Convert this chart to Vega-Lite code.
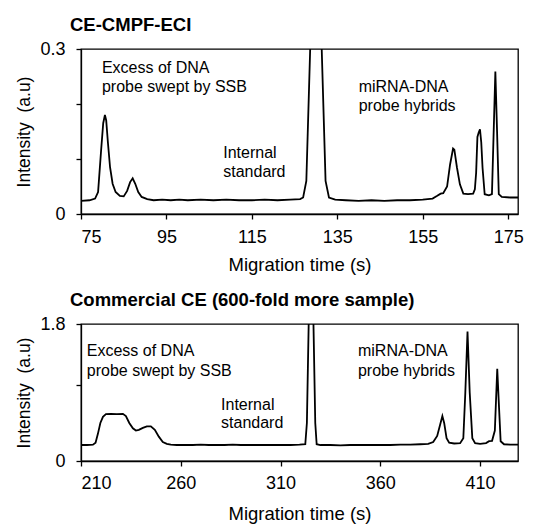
{
  "$schema": "https://vega.github.io/schema/vega-lite/v6.json",
  "background": "white",
  "padding": {"left": 15, "top": 14, "right": 4, "bottom": 2},
  "spacing": 14,
  "config": {
    "font": "Liberation Sans",
    "view": {"stroke": "black", "strokeWidth": 1.3},
    "axis": {
      "grid": false, "domainColor": "black", "domainWidth": 1.3, "tickColor": "black", "tickWidth": 1.3,
      "labelColor": "black", "titleColor": "black", "labelFontSize": 18, "titleFontSize": 18.5,
      "titleFontWeight": "normal", "tickSize": 5, "labelFont": "Liberation Sans", "titleFont": "Liberation Sans"
    },
    "axisY": {"titleFontSize": 17.5},
    "title": {"color": "black", "font": "Liberation Sans", "fontSize": 18.5, "fontWeight": "bold", "anchor": "start", "frame": "group"}
  },
  "vconcat": [
    {
      "width": 437, "height": 165,
      "title": {"text": "CE-CMPF-ECI", "dx": -11, "offset": 6},
      "layer": [
        {
          "data": {"values": [
            {"t":75,"v":0.024},{"t":77,"v":0.025},{"t":78.3,"v":0.028},{"t":79.0,"v":0.040},{"t":79.7,"v":0.115},{"t":80.2,"v":0.165},{"t":80.6,"v":0.180},{"t":80.9,"v":0.170},{"t":81.3,"v":0.130},{"t":81.8,"v":0.085},{"t":82.4,"v":0.055},{"t":83.1,"v":0.040},{"t":84.1,"v":0.033},{"t":85.0,"v":0.032},{"t":85.8,"v":0.042},{"t":86.5,"v":0.058},{"t":87.1,"v":0.065},{"t":87.7,"v":0.055},{"t":88.4,"v":0.040},{"t":89.2,"v":0.031},{"t":90.5,"v":0.027},{"t":92,"v":0.025},{"t":94,"v":0.026},{"t":96,"v":0.025},{"t":98,"v":0.026},{"t":100,"v":0.025},{"t":103,"v":0.026},{"t":106,"v":0.025},{"t":109,"v":0.026},{"t":112,"v":0.025},{"t":115,"v":0.025},{"t":118,"v":0.026},{"t":121,"v":0.025},{"t":124,"v":0.026},{"t":126.3,"v":0.027},{"t":127.0,"v":0.030},{"t":127.75,"v":0.060},{"t":128.65,"v":0.300},{"t":130.0,"v":0.9},{"t":131.35,"v":0.300},{"t":132.25,"v":0.060},{"t":133.05,"v":0.030},{"t":134.5,"v":0.026},{"t":137,"v":0.025},{"t":140,"v":0.024},{"t":143,"v":0.025},{"t":146,"v":0.024},{"t":149,"v":0.025},{"t":152,"v":0.025},{"t":155,"v":0.026},{"t":157.3,"v":0.028},{"t":158.4,"v":0.033},{"t":159.2,"v":0.037},{"t":159.8,"v":0.038},{"t":160.7,"v":0.050},{"t":161.4,"v":0.090},{"t":162.1,"v":0.119},{"t":162.4,"v":0.117},{"t":163.0,"v":0.085},{"t":163.7,"v":0.054},{"t":164.5,"v":0.037},{"t":165.6,"v":0.036},{"t":166.8,"v":0.037},{"t":167.2,"v":0.045},{"t":167.5,"v":0.075},{"t":167.8,"v":0.140},{"t":168.1,"v":0.148},{"t":168.4,"v":0.154},{"t":168.7,"v":0.130},{"t":169.0,"v":0.084},{"t":169.5,"v":0.036},{"t":170.5,"v":0.034},{"t":171.2,"v":0.036},{"t":171.5,"v":0.120},{"t":172.0,"v":0.259},{"t":172.4,"v":0.150},{"t":172.8,"v":0.036},{"t":173.5,"v":0.031},{"t":175.5,"v":0.030},{"t":177.3,"v":0.030}
          ]},
          "mark": {"type": "line", "color": "black", "strokeWidth": 1.8, "clip": true},
          "encoding": {
            "x": {"field": "t", "type": "quantitative", "scale": {"domain": [75, 177.3], "nice": false, "zero": false},
                  "axis": {"values": [75, 95, 115, 135, 155, 175], "title": "Migration time (s)", "labelPadding": 9, "titlePadding": 9}},
            "y": {"field": "v", "type": "quantitative", "scale": {"domain": [0, 0.3], "nice": false},
                  "axis": {"values": [0, 0.1, 0.2, 0.3], "labelExpr": "datum.value == 0 ? '0' : (datum.value == 0.3 ? '0.3' : '')", "title": "Intensity\u00a0 (a.u)", "labelPadding": 11, "titlePadding": 6}}
          }
        },
        {
          "data": {"values": [
            {"t":79.9,"v":0.257,"label":"Excess of DNA"},{"t":79.9,"v":0.222,"label":"probe swept by SSB"},
            {"t":108.3,"v":0.102,"label":"Internal"},{"t":108.3,"v":0.067,"label":"standard"},
            {"t":140.0,"v":0.222,"label":"miRNA-DNA"},{"t":140.0,"v":0.187,"label":"probe hybrids"}
          ]},
          "mark": {"type": "text", "align": "left", "baseline": "alphabetic", "fontSize": 16, "color": "black"},
          "encoding": {
            "x": {"field": "t", "type": "quantitative"},
            "y": {"field": "v", "type": "quantitative"},
            "text": {"field": "label"}
          }
        }
      ]
    },
    {
      "width": 437, "height": 137,
      "title": {"text": "Commercial CE (600-fold more sample)", "dx": -11, "offset": 6},
      "layer": [
        {
          "data": {"values": [
            {"t":210,"v":0.21},{"t":213,"v":0.21},{"t":216,"v":0.215},{"t":217.3,"v":0.24},{"t":218.5,"v":0.36},{"t":219.7,"v":0.50},{"t":221,"v":0.58},{"t":222.5,"v":0.615},{"t":225,"v":0.62},{"t":228,"v":0.615},{"t":231,"v":0.62},{"t":232.5,"v":0.59},{"t":234.2,"v":0.50},{"t":236,"v":0.43},{"t":237.5,"v":0.40},{"t":239,"v":0.41},{"t":241,"v":0.435},{"t":243,"v":0.455},{"t":245,"v":0.455},{"t":247,"v":0.41},{"t":249,"v":0.32},{"t":251,"v":0.25},{"t":253,"v":0.225},{"t":255,"v":0.215},{"t":258,"v":0.21},{"t":262,"v":0.21},{"t":266,"v":0.21},{"t":270,"v":0.215},{"t":274,"v":0.21},{"t":278,"v":0.21},{"t":282,"v":0.21},{"t":286,"v":0.215},{"t":290,"v":0.21},{"t":295,"v":0.21},{"t":300,"v":0.21},{"t":305,"v":0.21},{"t":310,"v":0.21},{"t":315,"v":0.21},{"t":319.5,"v":0.215},{"t":322.4,"v":0.22},{"t":323.2,"v":0.5},{"t":324.1,"v":1.8},{"t":325.3,"v":3.5},{"t":326.5,"v":1.8},{"t":327.4,"v":0.5},{"t":328.1,"v":0.22},{"t":330,"v":0.21},{"t":335,"v":0.21},{"t":340,"v":0.205},{"t":345,"v":0.21},{"t":350,"v":0.21},{"t":355,"v":0.21},{"t":360,"v":0.21},{"t":365,"v":0.21},{"t":370,"v":0.215},{"t":375,"v":0.215},{"t":380,"v":0.22},{"t":384,"v":0.225},{"t":386.5,"v":0.25},{"t":388.5,"v":0.33},{"t":390,"v":0.48},{"t":391.1,"v":0.59},{"t":392,"v":0.50},{"t":393.2,"v":0.30},{"t":394.5,"v":0.24},{"t":397,"v":0.23},{"t":400,"v":0.235},{"t":401.6,"v":0.30},{"t":402.6,"v":0.9},{"t":403.7,"v":1.70},{"t":404.8,"v":0.9},{"t":406.1,"v":0.30},{"t":407.5,"v":0.235},{"t":410,"v":0.225},{"t":413,"v":0.235},{"t":414.5,"v":0.26},{"t":416,"v":0.265},{"t":417.4,"v":0.40},{"t":418.6,"v":1.21},{"t":419.5,"v":0.7},{"t":420.3,"v":0.26},{"t":422,"v":0.22},{"t":425,"v":0.215},{"t":429,"v":0.215}
          ]},
          "mark": {"type": "line", "color": "black", "strokeWidth": 1.8, "clip": true},
          "encoding": {
            "x": {"field": "t", "type": "quantitative", "scale": {"domain": [210, 429], "nice": false, "zero": false},
                  "axis": {"values": [210, 260, 310, 360, 410], "title": "Migration time (s)", "labelPadding": 8, "titlePadding": 12}},
            "y": {"field": "v", "type": "quantitative", "scale": {"domain": [0, 1.8], "nice": false},
                  "axis": {"values": [0, 0.5, 1, 1.5, 1.8], "labelExpr": "datum.value == 0 ? '0' : (datum.value == 1.8 ? '1.8' : '')", "title": "Intensity\u00a0 (a.u)", "labelPadding": 11, "titlePadding": 6}}
          }
        },
        {
          "data": {"values": [
            {"t":212.9,"v":1.38,"label":"Excess of DNA"},{"t":212.9,"v":1.113,"label":"probe swept by SSB"},
            {"t":280.2,"v":0.674,"label":"Internal"},{"t":280.2,"v":0.434,"label":"standard"},
            {"t":348.8,"v":1.38,"label":"miRNA-DNA"},{"t":348.8,"v":1.113,"label":"probe hybrids"}
          ]},
          "mark": {"type": "text", "align": "left", "baseline": "alphabetic", "fontSize": 16, "color": "black"},
          "encoding": {
            "x": {"field": "t", "type": "quantitative"},
            "y": {"field": "v", "type": "quantitative"},
            "text": {"field": "label"}
          }
        }
      ]
    }
  ]
}
